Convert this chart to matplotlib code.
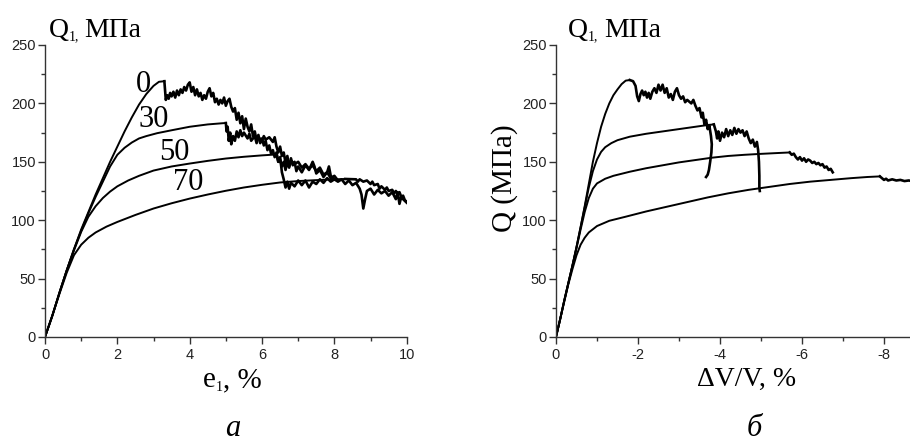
import matplotlib
matplotlib.use("Agg")
import matplotlib.pyplot as plt
from matplotlib.ticker import MultipleLocator

plt.rcParams['axes.unicode_minus'] = False

# ---- panel a: stress vs axial strain e1, labels = confining pressure ----
labels_a = ["0", "30", "50", "70"]
label_pos_a = [(2.71, 216), (3.01, 186), (3.57, 158), (3.95, 132)]

e_0 = [0, 0.2, 0.4, 0.6, 0.8, 1.0, 1.2, 1.4, 1.6, 1.8, 2.0, 2.2, 2.4, 2.6, 2.8, 3.0, 3.15, 3.3,
       3.34, 3.38, 3.42, 3.46, 3.5, 3.55, 3.6, 3.65, 3.7, 3.75, 3.8, 3.85, 3.9, 3.95, 4.0, 4.05,
       4.1, 4.15, 4.2, 4.25, 4.3, 4.35, 4.4, 4.45, 4.5, 4.55, 4.6, 4.65, 4.7, 4.75, 4.8, 4.85,
       4.9, 4.95, 5.0, 5.05, 5.1, 5.15, 5.2, 5.25, 5.3, 5.35, 5.4, 5.45, 5.5, 5.55, 5.6, 5.65,
       5.7, 5.75, 5.8, 5.85, 5.9, 5.95, 6.0, 6.05, 6.1, 6.15, 6.2, 6.25, 6.3, 6.35, 6.4, 6.45,
       6.5, 6.55, 6.6, 6.65, 6.7, 6.75, 6.8, 6.85, 6.9, 6.95, 7.0, 7.1, 7.2, 7.3, 7.4, 7.45, 7.5,
       7.6, 7.7, 7.8, 7.85, 7.9, 8.0, 8.1, 8.2, 8.3, 8.4, 8.5, 8.6, 8.7, 8.75, 8.8, 8.85, 8.9,
       9.0, 9.1, 9.2, 9.3, 9.4, 9.5, 9.6, 9.7, 9.75, 9.8, 9.85, 9.9, 10.0]
q_0 = [0, 18, 38, 57, 75, 92, 107, 122, 136, 150, 163, 176, 188, 199, 208, 215, 218.5, 219,
       203, 207, 204, 209, 206, 210, 205, 211, 207, 212, 209, 214, 211, 216, 218, 210,
       214, 207, 212, 206, 209, 203, 207, 204, 210, 213, 206, 209, 201, 204, 199, 203,
       200, 205, 198, 202, 204, 197, 193, 196, 186, 192, 183, 189, 178, 187, 180, 176,
       182, 172, 176, 168, 173, 166, 170, 164, 168, 160, 164, 157, 160, 154, 158, 150,
       152, 146, 150, 143, 150, 145, 153, 147, 150, 142, 146, 141, 147, 143, 150, 146, 140,
       143, 137, 141, 146, 138, 135, 133, 135, 131, 134, 130, 132, 127, 122, 110, 118, 125,
       127, 122, 126, 123, 125, 121, 124, 118, 124, 114, 120, 118, 115]

e_30 = [0, 0.2, 0.4, 0.6, 0.8, 1.0, 1.2, 1.4, 1.6, 1.8, 2.0, 2.2, 2.4, 2.6, 2.8, 3.1, 3.5, 4.0,
        4.5, 4.9, 5.0, 5.02, 5.05, 5.08, 5.12, 5.15, 5.2, 5.25, 5.3, 5.35, 5.4, 5.45, 5.5, 5.6,
        5.65, 5.7, 5.8, 5.85, 5.9, 6.0, 6.05, 6.1, 6.2, 6.3, 6.35, 6.4, 6.45, 6.5, 6.55, 6.6,
        6.65, 6.7, 6.75, 6.8, 6.9, 7.0, 7.1, 7.2, 7.3, 7.4, 7.5, 7.6, 7.7, 7.8, 7.9, 8.0, 8.1]
q_30 = [0, 18, 38, 57, 75, 91, 106, 120, 133, 146, 156, 162, 166.5, 170, 172, 174.5, 177, 180,
        182, 183, 183.2, 176, 180, 168, 175, 165, 172, 168, 176, 171, 177, 172, 175, 170,
        174, 168, 172, 166, 171, 168, 172, 169, 171, 167, 171, 163, 158, 163, 155, 158,
        149, 155, 146, 151, 148, 150, 145, 148, 144, 147, 142, 145, 139, 141, 136, 138, 134]

e_50 = [0, 0.2, 0.4, 0.6, 0.8, 1.0, 1.2, 1.4, 1.6, 1.8, 2.0, 2.3, 2.6, 3.0, 3.5, 4.0, 4.5, 5.0,
        5.5, 6.0, 6.4, 6.45, 6.5, 6.55, 6.6, 6.65, 6.7, 6.75, 6.8, 6.9, 7.0, 7.1, 7.2, 7.3, 7.4,
        7.5, 7.6, 7.7, 7.8, 7.9, 8.0]
q_50 = [0, 18, 38, 57, 74, 90, 103, 112, 119, 124.5, 129, 134, 138, 142.5, 146, 148.5, 150.8, 152.8,
        154.3, 155.5, 156.3, 150, 154, 141, 135, 128, 133, 127, 132, 129, 134, 130, 134, 128, 133,
        131, 135, 132, 136, 133, 135]

e_70 = [0, 0.2, 0.4, 0.6, 0.8, 1.0, 1.2, 1.4, 1.7, 2.0, 2.5, 3.0, 3.5, 4.0, 4.5, 5.0, 5.5, 6.0,
        6.5, 7.0, 7.5, 8.0, 8.3, 8.6, 8.65, 8.7, 8.8, 8.9, 9.0, 9.05, 9.1, 9.2, 9.25, 9.3, 9.4,
        9.45, 9.5, 9.6, 9.65, 9.7, 9.75, 9.8, 9.85, 9.9, 9.95, 10.0]
q_70 = [0, 18, 37, 55, 70, 79, 85, 89.5, 94.5, 98.5, 104.5, 110, 114.5, 118.5, 122, 125.2, 128, 130.3,
        132.3, 133.5, 134.3, 135, 135.3, 135, 133, 135, 133, 134, 131, 133, 130, 131, 127, 129, 126,
        128, 125, 126, 123, 125, 122, 124, 120, 121, 117, 116]

# ---- panel б: stress vs volumetric strain dV/V ----
v_0 = [0, -0.1, -0.2, -0.3, -0.4, -0.5, -0.6, -0.7, -0.8, -0.9, -1.0, -1.1, -1.2, -1.3, -1.4, -1.5,
       -1.6, -1.7, -1.8, -1.88, -1.94, -1.98, -2.02, -2.06, -2.1, -2.14, -2.18, -2.22, -2.26, -2.3,
       -2.35, -2.4, -2.45, -2.5, -2.55, -2.6, -2.65, -2.7, -2.75, -2.8, -2.85, -2.9, -2.95, -3.0,
       -3.05, -3.1, -3.15, -3.2, -3.3, -3.35, -3.4, -3.45, -3.5, -3.55, -3.58, -3.62, -3.66, -3.7,
       -3.74, -3.78, -3.8, -3.79, -3.76, -3.73, -3.7, -3.66]
p_0 = [0, 15, 31, 46, 61, 77, 94, 112, 131, 150, 166, 180, 191, 200, 207, 212,
       216.5, 219.5, 220, 219, 215, 206, 202, 208, 211, 207, 210, 205, 209, 204,
       210, 213, 209, 216, 211, 216, 209, 213, 205, 208, 203, 210, 213, 207,
       204, 206, 201, 203, 200, 203, 198, 194, 196, 188, 192, 182, 186, 178,
       181, 172, 165, 158, 150, 143, 139, 137]

v_30 = [0, -0.1, -0.2, -0.3, -0.4, -0.5, -0.6, -0.7, -0.8, -0.9, -1.0, -1.1, -1.2, -1.35, -1.5, -1.8,
        -2.2, -2.6, -3.0, -3.4, -3.7, -3.85, -3.9, -3.93, -3.96, -4.0, -4.05, -4.1, -4.15, -4.2,
        -4.25, -4.3, -4.35, -4.4, -4.45, -4.5, -4.55, -4.6, -4.65, -4.7, -4.75, -4.8, -4.85, -4.9,
        -4.93, -4.95, -4.96, -4.96, -4.97]
p_30 = [0, 15, 31, 46, 61, 77, 94, 111, 128, 142, 152, 158.5, 162.5, 166, 168.5, 171.5,
        174, 176, 178, 180, 181.5, 182, 176, 170, 176, 168, 175, 171, 178, 172,
        177, 173, 179, 174, 178, 175, 177, 172, 176, 170, 166, 169, 163, 167,
        160, 150, 138, 128, 125]

v_50 = [0, -0.1, -0.2, -0.3, -0.4, -0.5, -0.6, -0.7, -0.8, -0.9, -1.0, -1.2, -1.4, -1.8, -2.2, -2.6,
        -3.0, -3.4, -3.8, -4.2, -4.6, -5.0, -5.4, -5.7, -5.75, -5.8, -5.85, -5.9, -5.95, -6.0,
        -6.05, -6.1, -6.15, -6.2, -6.25, -6.3, -6.35, -6.4, -6.45, -6.5, -6.55, -6.6, -6.65, -6.7,
        -6.75]
p_50 = [0, 15, 31, 46, 61, 76, 92, 107, 119, 127, 131.5, 135.5, 138, 141.5, 144.5, 147,
        149.5, 151.5, 153.5, 155, 156, 156.8, 157.5, 158, 156, 157, 154, 152, 154, 151,
        153, 150, 152, 151, 149, 150, 148, 149, 147, 148, 145, 146, 143, 144,
        141]

v_70 = [0, -0.1, -0.2, -0.3, -0.4, -0.5, -0.6, -0.7, -0.8, -1.0, -1.3, -1.7, -2.2, -2.7, -3.2, -3.7,
        -4.2, -4.7, -5.2, -5.7, -6.2, -6.7, -7.2, -7.6, -7.9, -7.95, -8.0, -8.05, -8.1, -8.2, -8.3,
        -8.4, -8.5, -8.6, -8.7]
p_70 = [0, 15, 30, 45, 58, 70, 79, 85, 89.5, 95, 99.5, 103, 107.5, 111.5, 115.5, 119.5,
        123, 126, 128.5, 131, 133, 134.5, 136, 137, 137.5, 136, 134.5, 135.5, 134, 135, 134,
        134.5, 133.5, 134, 133.5]

W, H = 910, 441
serif = "Liberation Serif"


def fx(px):
    return px / W


def fy(py):
    return 1 - py / H


def style_axis(ax):
    for s in ["top", "right"]:
        ax.spines[s].set_visible(False)
    for s in ["left", "bottom"]:
        ax.spines[s].set_color("#333333")
        ax.spines[s].set_linewidth(1.0)
    ax.set_ylim(0, 250)
    ax.yaxis.set_major_locator(MultipleLocator(50))
    ax.yaxis.set_minor_locator(MultipleLocator(25))
    ax.xaxis.set_major_locator(MultipleLocator(2))
    ax.xaxis.set_minor_locator(MultipleLocator(1))
    ax.tick_params(which="major", direction="out", length=5, width=1, color="#333333",
                   labelsize=10.5, labelcolor="#222222")
    ax.tick_params(which="minor", direction="out", length=3, width=1, color="#333333")
    ax.tick_params(axis="y", pad=1.5)
    ax.tick_params(axis="x", pad=3)
    for lab in ax.get_xticklabels() + ax.get_yticklabels():
        lab.set_family("Liberation Sans")


def draw_curve(ax, x, y):
    # smooth loading branch thinner, noisy post-peak branch a bit heavier
    k = y.index(max(y))
    ax.plot(x[:k + 1], y[:k + 1], color="black", lw=1.4, solid_joinstyle="round")
    ax.plot(x[k:], y[k:], color="black", lw=1.9, solid_joinstyle="round")


def title_q1(x_q, x_sub, x_unit):
    # "Q" big, subscript "1," small, then the unit
    fig.text(fx(x_q), fy(37), "Q", family=serif, fontsize=20, ha="left", va="baseline")
    fig.text(fx(x_sub), fy(40), "1,", family=serif, fontsize=10, ha="left", va="baseline")
    fig.text(fx(x_unit), fy(37), "МПа", family=serif, fontsize=20, ha="left", va="baseline")


fig = plt.figure(figsize=(9.1, 4.41), dpi=100)

# panel a
ax1 = fig.add_axes([fx(45), fy(337), fx(406.7) - fx(45), fy(45) - fy(337)])
for e, q in [(e_0, q_0), (e_30, q_30), (e_50, q_50), (e_70, q_70)]:
    draw_curve(ax1, e, q)
ax1.set_xlim(0, 10)
style_axis(ax1)
for lab, (lx, ly) in zip(labels_a, label_pos_a):
    ax1.text(lx, ly, lab, family=serif, fontsize=22, ha="center", va="center")

# panel б
ax2 = fig.add_axes([fx(556), fy(337), 1 - fx(556), fy(45) - fy(337)])
for v, p in [(v_0, p_0), (v_30, p_30), (v_50, p_50), (v_70, p_70)]:
    draw_curve(ax2, v, p)
ax2.set_xlim(0, -(910 - 556) / 41.0)
style_axis(ax2)

# titles and axis labels
title_q1(49, 69, 84)
title_q1(568, 588, 604)

fig.text(fx(203), fy(387), "e", family=serif, fontsize=21, ha="left", va="baseline")
fig.text(fx(216), fy(391), "1", family=serif, fontsize=10, ha="left", va="baseline")
fig.text(fx(223), fy(387), ", %", family=serif, fontsize=21, ha="left", va="baseline")

fig.text(fx(747), fy(379), "ΔV/V, %", family=serif, fontsize=20, ha="center", va="center")
fig.text(fx(505), fy(178), "Q (МПа)", family=serif, fontsize=21, rotation=90,
         ha="center", va="center")
fig.text(fx(233), fy(428), "а", family=serif, style="italic", fontsize=22, ha="center", va="center")
fig.text(fx(754), fy(428), "б", family=serif, style="italic", fontsize=22, ha="center", va="center")

fig.savefig("out.png", dpi=100)
